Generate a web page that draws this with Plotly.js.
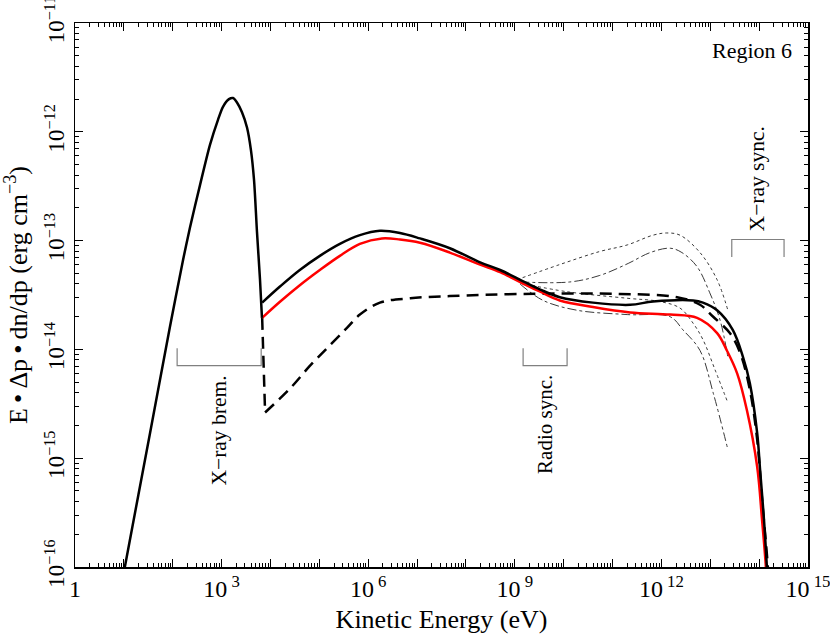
<!DOCTYPE html>
<html>
<head>
<meta charset="utf-8">
<script src="https://cdn.plot.ly/plotly-3.0.1.min.js"></script>
<style>html,body{margin:0;padding:0;background:#fff;}#chart{width:830px;height:642px;}</style>
</head>
<body>
<div id="chart"></div>
<script>
// All values stored as log10(E [eV]) and log10(E·Δp·dn/dp [erg cm^-3])
const thermalLogE = [0.94, 1.02, 1.535, 1.944, 2.21, 2.353, 2.558, 2.762, 2.926, 3.028, 3.151, 3.233, 3.315, 3.417, 3.52, 3.601, 3.663, 3.724, 3.786, 3.826];
const thermalLogV = [-16.2, -16.0, -14.77, -13.79, -13.18, -12.88, -12.49, -12.12, -11.89, -11.77, -11.70, -11.69, -11.73, -11.82, -11.96, -12.17, -12.44, -12.92, -13.36, -13.71];

const totalLogE = [3.83, 4.20, 4.60, 5.01, 5.42, 5.83, 6.24, 6.65, 7.06, 7.67, 8.29, 8.70, 9.15, 9.52, 9.92, 10.60, 11.36, 11.83, 12.65, 12.85, 13.14, 13.46, 13.67, 13.81, 13.96, 14.02, 14.10, 14.16, 14.19];
const totalLogV = [-13.57, -13.42, -13.27, -13.14, -13.03, -12.95, -12.91, -12.93, -12.98, -13.07, -13.20, -13.27, -13.37, -13.45, -13.52, -13.57, -13.59, -13.56, -13.55, -13.57, -13.64, -13.82, -14.07, -14.31, -14.77, -15.11, -15.57, -16.01, -16.3];

const redLogE = [3.83, 4.20, 4.60, 5.01, 5.42, 5.83, 6.28, 6.65, 7.06, 7.67, 8.29, 8.70, 9.15, 9.52, 9.92, 10.60, 11.36, 12.18, 12.73, 13.14, 13.34, 13.55, 13.75, 13.96, 14.06, 14.14, 14.17];
const redLogV = [-13.71, -13.56, -13.41, -13.27, -13.14, -13.03, -12.98, -12.99, -13.02, -13.11, -13.22, -13.29, -13.39, -13.47, -13.55, -13.61, -13.66, -13.68, -13.71, -13.85, -14.01, -14.22, -14.56, -15.08, -15.57, -16.01, -16.3];

const dashDropLogE = [3.83, 3.89];
const dashDropLogV = [-13.71, -14.58];
const dashedLogE = [3.89, 4.40, 4.81, 5.22, 5.57, 5.83, 6.24, 6.86, 7.67, 9.15, 11.15, 12.32, 12.79, 13.06, 13.40, 13.61, 13.81, 13.96, 14.06, 14.18, 14.21];
const dashedLogV = [-14.58, -14.36, -14.15, -13.96, -13.80, -13.68, -13.57, -13.53, -13.51, -13.49, -13.49, -13.52, -13.59, -13.70, -13.85, -14.03, -14.37, -14.83, -15.38, -16.01, -16.3];

const upDotLogE = [9.04, 9.92, 10.74, 11.30, 11.83, 12.11, 12.38, 12.79, 13.14, 13.36];
const upDotLogV = [-13.36, -13.22, -13.10, -13.04, -12.95, -12.93, -12.95, -13.11, -13.36, -13.64];

const upDashDotLogE = [9.11, 10.13, 10.74, 11.32, 11.77, 12.18, 12.42, 12.73, 12.99, 13.20, 13.36];
const upDashDotLogV = [-13.38, -13.38, -13.32, -13.21, -13.11, -13.07, -13.11, -13.24, -13.48, -13.73, -14.07];

const lowDotLogE = [9.11, 10.07, 11.30, 11.97, 12.38, 12.65, 12.85, 13.10, 13.36];
const lowDotLogV = [-13.39, -13.47, -13.53, -13.56, -13.62, -13.76, -13.91, -14.19, -14.49];

const lowDashDotLogE = [9.11, 9.58, 10.27, 11.30, 12.18, 12.44, 12.79, 13.06, 13.36];
const lowDashDotLogV = [-13.40, -13.55, -13.64, -13.68, -13.70, -13.82, -14.01, -14.40, -14.92];

// observation band brackets: [logE_low, logE_high], [logV_tick_end, logV_bar]
const xrayBremBand = [2.09, 3.81];
const xrayBremLevels = [-13.99, -14.15];
const radioSyncBand = [9.17, 10.07];
const radioSyncLevels = [-13.99, -14.15];
const xraySyncBand = [13.44, 14.51];
const xraySyncLevels = [-13.15, -12.99];

const xTickExp = [0,1,2,3,4,5,6,7,8,9,10,11,12,13,14,15];
const yTickExp = [-16,-15,-14,-13,-12,-11];

const p10 = a => a.map(v => Math.pow(10, v));

const FONT = 'Liberation Serif';
const THIN = '#3a3a3a';
const GREY = '#808080';

function bracket(band, lv) {
  return {
    x: p10([band[0], band[0], band[1], band[1]]),
    y: p10([lv[0], lv[1], lv[1], lv[0]]),
    mode: 'lines', line: {color: GREY, width: 1.2}
  };
}

const traces = [
  {x: p10(upDotLogE), y: p10(upDotLogV), mode: 'lines', line: {color: THIN, width: 1, dash: 'dot', shape: 'spline'}},
  {x: p10(upDashDotLogE), y: p10(upDashDotLogV), mode: 'lines', line: {color: THIN, width: 1, dash: 'dashdot', shape: 'spline'}},
  {x: p10(lowDotLogE), y: p10(lowDotLogV), mode: 'lines', line: {color: THIN, width: 1, dash: 'dot', shape: 'spline'}},
  {x: p10(lowDashDotLogE), y: p10(lowDashDotLogV), mode: 'lines', line: {color: THIN, width: 1, dash: 'dashdot', shape: 'spline'}},
  bracket(xrayBremBand, xrayBremLevels),
  bracket(radioSyncBand, radioSyncLevels),
  bracket(xraySyncBand, xraySyncLevels),
  {x: p10(dashDropLogE), y: p10(dashDropLogV), mode: 'lines', line: {color: '#000', width: 2.5, dash: '12px,7px'}},
  {x: p10(dashedLogE), y: p10(dashedLogV), mode: 'lines', line: {color: '#000', width: 2.5, dash: '12px,7px', shape: 'spline'}},
  {x: p10(redLogE), y: p10(redLogV), mode: 'lines', line: {color: '#ff0000', width: 2.5, shape: 'spline'}},
  {x: p10(thermalLogE), y: p10(thermalLogV), mode: 'lines', line: {color: '#000', width: 2.5, shape: 'spline', smoothing: 0.8}},
  {x: p10(totalLogE), y: p10(totalLogV), mode: 'lines', line: {color: '#000', width: 2.5, shape: 'spline'}}
];
traces.forEach(t => { t.showlegend = false; t.hoverinfo = 'skip'; });

const xMinor = [], yMinor = [];
for (let k = 0; k < 15; k++) for (let m = 2; m <= 9; m++) xMinor.push(m * Math.pow(10, k));
for (let k = -16; k < -11; k++) for (let m = 2; m <= 9; m++) yMinor.push(m * Math.pow(10, k));

const xAxis = {
  type: 'log', range: [0, 15],
  tickmode: 'array',
  tickvals: xTickExp.map(e => Math.pow(10, e)),
  ticktext: xTickExp.map(e => e === 0 ? '1' : (e % 3 === 0 ? '10<sup> ' + e + '</sup>' : '')),
  ticklabeloverflow: 'allow',
  ticks: 'inside', ticklen: 8, tickwidth: 1, tickcolor: '#000',
  minor: {tickmode: 'array', tickvals: xMinor, ticks: 'inside', ticklen: 4, tickwidth: 1, tickcolor: '#000', showgrid: false},
  showline: true, linecolor: '#000', linewidth: 1.5, mirror: 'allticks',
  showgrid: false, zeroline: false,
  tickfont: {family: FONT, size: 24, color: '#000'},
  title: {text: 'Kinetic Energy (eV)', font: {family: FONT, size: 26, color: '#000'}, standoff: 8}
};
const yAxis = {
  type: 'log', range: [-16, -11],
  tickmode: 'array',
  tickvals: yTickExp.map(e => Math.pow(10, e)),
  ticktext: yTickExp.map(e => '10<sup>\u2212' + (-e) + '</sup>'),
  ticklabeloverflow: 'allow',
  tickangle: -90,
  ticks: 'inside', ticklen: 8, tickwidth: 1, tickcolor: '#000',
  minor: {tickmode: 'array', tickvals: yMinor, ticks: 'inside', ticklen: 4, tickwidth: 1, tickcolor: '#000', showgrid: false},
  showline: true, linecolor: '#000', linewidth: 1.5, mirror: 'allticks',
  showgrid: false, zeroline: false,
  tickfont: {family: FONT, size: 23, color: '#000'},
  title: {text: 'E\u2009\u2022\u2009\u0394p\u2009\u2022\u2009dn/dp (erg cm<sup>\u22123</sup>)', font: {family: FONT, size: 26, color: '#000'}, standoff: 6}
};

const layout = {
  width: 830, height: 642,
  margin: {l: 75, r: 22, t: 23, b: 75},
  paper_bgcolor: '#fff', plot_bgcolor: '#fff',
  font: {family: FONT, color: '#000', size: 18},
  xaxis: xAxis, yaxis: yAxis,
  showlegend: false,
  annotations: [
    {xref: 'paper', yref: 'paper', x: 0.924, y: 0.95, text: 'Region 6', showarrow: false, xanchor: 'center', yanchor: 'middle', font: {family: FONT, size: 22, color: '#000'}},
    {xref: 'x', yref: 'y', x: (xrayBremBand[0] + xrayBremBand[1]) / 2, y: -14.22, yanchor: 'top', text: 'X\u2212ray brem.', textangle: -90, showarrow: false, font: {family: FONT, size: 21.5, color: '#000'}},
    {xref: 'x', yref: 'y', x: (radioSyncBand[0] + radioSyncBand[1]) / 2, y: -14.22, yanchor: 'top', text: 'Radio sync.', textangle: -90, showarrow: false, font: {family: FONT, size: 21, color: '#000'}},
    {xref: 'x', yref: 'y', x: (xraySyncBand[0] + xraySyncBand[1]) / 2, y: -12.93, yanchor: 'bottom', text: 'X\u2212ray sync.', textangle: -90, showarrow: false, font: {family: FONT, size: 21.5, color: '#000'}}
  ]
};

Plotly.newPlot('chart', traces, layout, {staticPlot: true, displayModeBar: false});
</script>
</body>
</html>
